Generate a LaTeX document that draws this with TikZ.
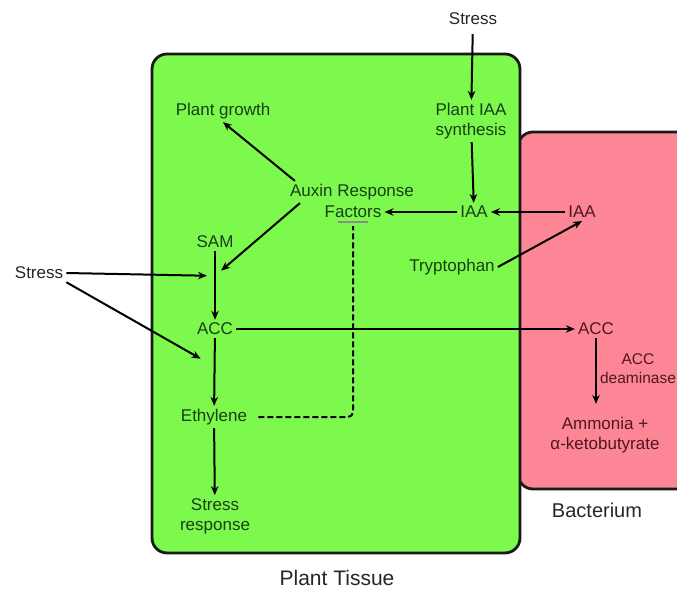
\documentclass[tikz,border=0pt]{standalone}
\usepackage{fontspec}
\setmainfont{Liberation Sans}
\usetikzlibrary{arrows.meta}
\definecolor{leafgreen}{HTML}{7DF84C}
\definecolor{bactpink}{HTML}{FC8696}
\definecolor{leaftext}{HTML}{173F17}
\definecolor{bacttext}{HTML}{521520}
\definecolor{plaintext}{HTML}{262626}

\begin{document}
\begin{tikzpicture}[x=1pt, y=-1pt,
  lbl/.style={font=\fontsize{17}{20}\selectfont, inner sep=3pt, align=center},
  plant/.style={lbl, text=leaftext},
  bact/.style={lbl, text=bacttext},
  outer/.style={lbl, text=plaintext},
  arr/.style={-{Stealth[length=9pt,width=7.5pt]}, line width=2pt},
  cell/.style={draw=black!90, line width=2.8pt, rounded corners=15pt}]
  \useasboundingbox (0,0) rectangle (677,594);
  \clip (0,0) rectangle (677,594);

  \draw[cell, fill=bactpink] (518,132) rectangle (720,489);
  \draw[cell, fill=leafgreen] (152,54) rectangle (520,553);

  \node[outer] (stressTop) at (473,19) {Stress};
  \node[plant] (iaaSyn) at (471,121) {Plant IAA\\synthesis};
  \node[plant] (iaaPlant) at (474,212) {IAA};
  \node[plant] (arfA) at (352,192) {Auxin Response};
  \node[plant] (arfB) at (353,212) {Factors};
  \node[plant] (growth) at (223,111) {Plant growth};
  \node[plant] (sam) at (215,242) {SAM};
  \node[outer] (stressLeft) at (39,273) {Stress};
  \node[plant] (accPlant) at (215,329) {ACC};
  \node[plant] (ethylene) at (214,417) {Ethylene};
  \node[plant] (stressResp) at (215,516) {Stress\\response};
  \node[plant] (trp) at (452,267) {Tryptophan};

  \node[bact] (iaaBac) at (582,212) {IAA};
  \node[bact] (accBac) at (596,329) {ACC};
  \node[bact, font=\fontsize{15.5}{19}\selectfont] (deam) at (638,369) {ACC\\deaminase};
  \node[bact] (ammonia) at (605,435) {Ammonia +\\α-ketobutyrate};

  \node[outer, font=\fontsize{20}{24}\selectfont] (bacterium) at (597,510) {Bacterium};
  \node[outer, font=\fontsize{21}{25}\selectfont] (tissue) at (337,578) {Plant Tissue};

  \path (sam) -- (accPlant) coordinate[pos=.36] (samAcc);
  \path (accPlant) -- (ethylene) coordinate[pos=.42] (accEth);

  \draw[arr, shorten <=6pt] (stressTop) -- (iaaSyn);
  \draw[arr] (iaaSyn) -- (iaaPlant);
  \draw[arr] (iaaBac) -- (iaaPlant);
  \draw[arr] (iaaPlant) -- (arfB);
  \draw[arr] (trp.east) -- (iaaBac.south);
  \draw[arr] ([xshift=8pt]arfA.north west) -- (growth.south);
  \draw[arr, shorten >=8pt] ([xshift=13pt]arfA.south west) -- (samAcc);
  \draw[arr, shorten >=8pt] (stressLeft.east) -- (samAcc);
  \draw[arr, shorten >=16pt] (stressLeft.south east) -- (accEth);
  \draw[arr] (sam) -- (accPlant);
  \draw[arr] (accPlant) -- (accBac);
  \draw[arr] (accPlant) -- (ethylene);
  \draw[arr] (ethylene) -- (stressResp);
  \draw[arr, shorten >=10pt] (accBac.south) -- (accBac.south |- ammonia.north);

  \draw[line width=2pt, dash pattern=on 6pt off 3pt, rounded corners=5pt]
    ([xshift=8pt]ethylene.east) -| ([yshift=-5pt]arfB.south);
  \draw[black!45, line width=1.4pt] ([xshift=-15pt,yshift=-1pt]arfB.south) -- ([xshift=15pt,yshift=-1pt]arfB.south);
\end{tikzpicture}
\end{document}
